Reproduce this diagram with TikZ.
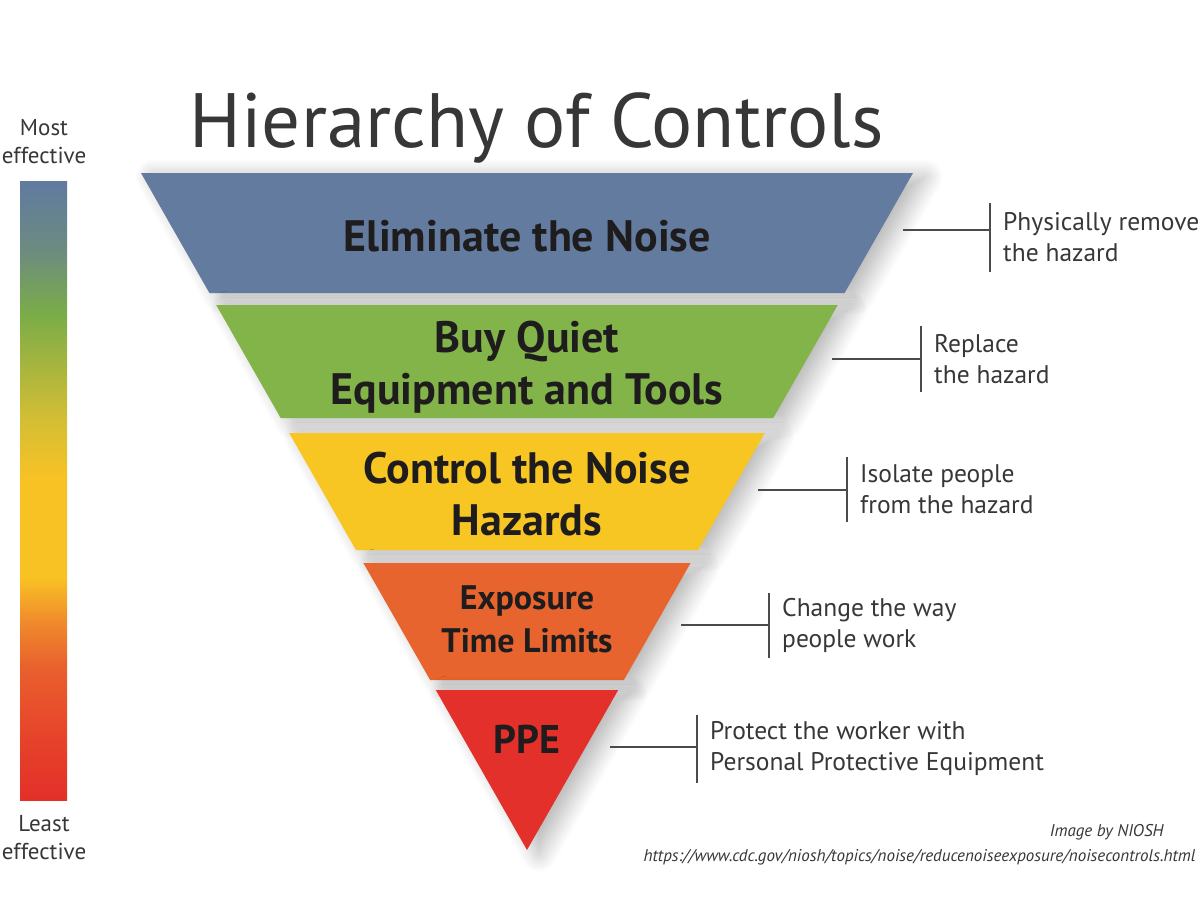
\documentclass[tikz,border=0pt]{standalone}
\usepackage{fontspec}
\setmainfont{PT Sans}
\usetikzlibrary{shadows.blur}
\definecolor{elimblue}{RGB}{99,123,159}
\definecolor{quietgreen}{RGB}{131,180,74}
\definecolor{ctrlyellow}{RGB}{248,198,35}
\definecolor{expoorange}{RGB}{232,100,46}
\definecolor{ppered}{RGB}{227,48,43}
\definecolor{inkdark}{RGB}{30,28,28}
\definecolor{inkgray}{RGB}{55,55,55}
\definecolor{linegray}{RGB}{75,75,75}
\definecolor{barred}{RGB}{227,48,42}
\definecolor{barone}{RGB}{230,66,42}
\definecolor{bartwo}{RGB}{233,96,45}
\definecolor{barthree}{RGB}{239,137,44}
\definecolor{baryel}{RGB}{249,194,36}
\definecolor{barfour}{RGB}{212,190,52}
\definecolor{bargreen}{RGB}{122,172,72}
\definecolor{barfive}{RGB}{108,140,128}
\definecolor{bartop}{RGB}{96,122,160}
\pgfdeclareverticalshading{effectbar}{100bp}{color(0bp)=(barred); color(25bp)=(barred);
  color(29.8bp)=(barone); color(35.7bp)=(bartwo); color(39.3bp)=(barthree);
  color(43bp)=(baryel); color(50.8bp)=(baryel); color(55.7bp)=(barfour);
  color(64.3bp)=(bargreen); color(69.4bp)=(barfive); color(75bp)=(bartop); color(100bp)=(bartop)}
\begin{document}
\begin{tikzpicture}[x=1pt,y=-1pt,
    band/.style={blur shadow={shadow xshift=12pt,shadow yshift=-4pt,shadow blur radius=18pt,shadow blur steps=20,shadow opacity=30}},
    bandtext/.style={text=inkdark,font=\bfseries\fontsize{44}{52}\selectfont,align=center},
    note/.style={anchor=west,align=left,text=inkgray,font=\fontsize{25.5}{31}\selectfont,inner xsep=13pt,minimum height=65pt},
    tick/.style={draw=linegray,line width=1.8pt},
    lead/.style={draw=linegray,line width=1.2pt}]
  \useasboundingbox (0,0) rectangle (1200,903);
  % scale of effectiveness
  \shade[shading=effectbar] (20,181) rectangle (67,800);
  \node[anchor=base,text=inkgray,font=\fontsize{23}{28}\selectfont,align=center] (most) at (44,163) {Most\\effective};
  \node[anchor=base,text=inkgray,font=\fontsize{23}{28}\selectfont,align=center] (least) at (44,859) {Least\\effective};
  \node[anchor=base west,text=inkgray,font=\fontsize{77}{90}\selectfont] (title) at (186,147) {Hierarchy of Controls};
  % the inverted pyramid
  \fill[elimblue,band] (141,173) -- (913,173) -- (844.6,293) -- (209.4,293) -- cycle;
  \fill[quietgreen,band] (216.2,305) -- (837.8,305) -- (773.3,418) -- (280.7,418) -- cycle;
  \fill[ctrlyellow,band] (289.2,433) -- (764.8,433) -- (698.1,550) -- (355.9,550) -- cycle;
  \fill[expoorange,band] (363.4,563) -- (690.6,563) -- (623.9,680) -- (430.1,680) -- cycle;
  \fill[ppered,band] (435.8,690) -- (618.2,690) -- (527,850) -- cycle;
  \node[bandtext] (elim) at (527,236) {Eliminate the Noise};
  \node[bandtext] (quiet) at (527,367) {Buy Quiet\\Equipment and Tools};
  \node[bandtext] (ctrl) at (527,494) {Control the Noise\\Hazards};
  \node[bandtext,font=\bfseries\fontsize{34}{43}\selectfont] (expo) at (527,619) {Exposure\\Time Limits};
  \node[bandtext,font=\bfseries\fontsize{40}{48}\selectfont] (ppe) at (527,739) {PPE};
  % notes on the right
  \node[note,minimum height=69pt] (remove) at (990,237.5) {Physically remove\\the hazard};
  \node[note] (replace) at (921,359) {Replace\\the hazard};
  \node[note] (isolate) at (847,489.5) {Isolate people\\from the hazard};
  \node[note] (change) at (769,625.5) {Change the way\\people work};
  \node[note,minimum height=68pt] (protect) at (697,749) {Protect the worker with\\Personal Protective Equipment};
  \coordinate (removeleg) at (903,230);
  \coordinate (replaceleg) at (832,359);
  \coordinate (isolateleg) at (758,490);
  \coordinate (changeleg) at (681,625);
  \coordinate (protectleg) at (610,747);
  \draw[tick] (remove.north west) -- (remove.south west);
  \draw[tick] (replace.north west) -- (replace.south west);
  \draw[tick] (isolate.north west) -- (isolate.south west);
  \draw[tick] (change.north west) -- (change.south west);
  \draw[tick] (protect.north west) -- (protect.south west);
  \draw[lead] (removeleg) -- (removeleg -| remove.west);
  \draw[lead] (replaceleg) -- (replaceleg -| replace.west);
  \draw[lead] (isolateleg) -- (isolateleg -| isolate.west);
  \draw[lead] (changeleg) -- (changeleg -| change.west);
  \draw[lead] (protectleg) -- (protectleg -| protect.west);
  % credit
  \node[anchor=base east,text=inkgray,font=\itshape\fontsize{17}{20}\selectfont] (credit) at (1167,836) {Image by NIOSH};
  \node[anchor=base east,text=inkgray,font=\itshape\fontsize{17}{20}\selectfont] (source) at (1199,861) {https://www.cdc.gov/niosh/topics/noise/reducenoiseexposure/noisecontrols.html};
\end{tikzpicture}
\end{document}
